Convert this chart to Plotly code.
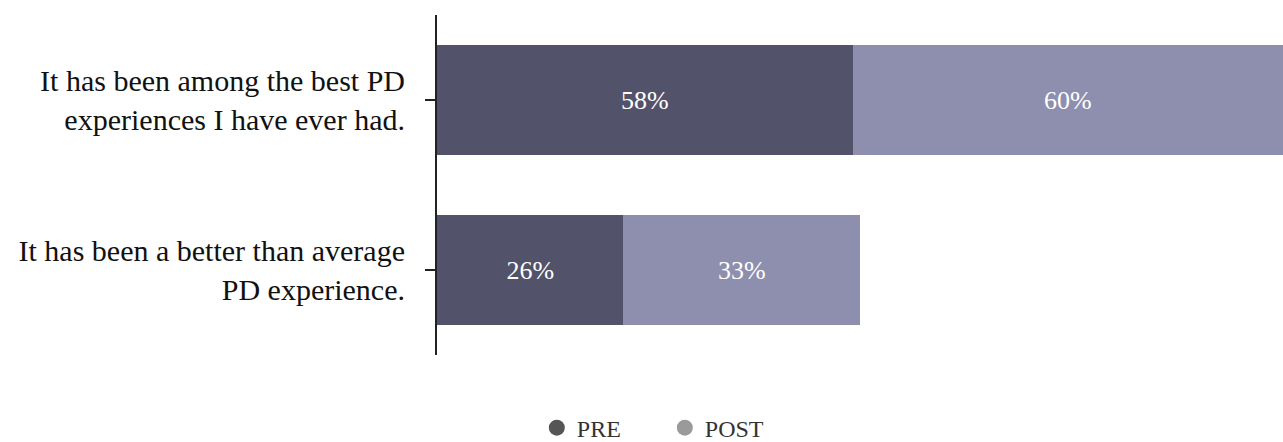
import plotly.graph_objects as go

categories = ["It has been among the best PD<br>experiences I have ever had.",
              "It has been a better than average<br>PD experience."]
pre = [58, 26]
post = [60, 33]
series_names = ["PRE", "POST"]

pre_color = "#52526a"
post_color = "#8e8eae"
legend_pre = "#555555"
legend_post = "#9a9a9a"
font_family = "Liberation Serif, Times New Roman, serif"

fig = go.Figure()
fig.add_trace(go.Bar(y=categories, x=pre, orientation="h", marker=dict(color=pre_color, line=dict(width=0)),
                     text=[f"{v}%" for v in pre], textposition="inside", insidetextanchor="middle",
                     textfont=dict(color="white", size=26, family=font_family), showlegend=False, name="PRE"))
fig.add_trace(go.Bar(y=categories, x=post, orientation="h", marker=dict(color=post_color, line=dict(width=0)),
                     text=[f"{v}%" for v in post], textposition="inside", insidetextanchor="middle",
                     textfont=dict(color="white", size=26, family=font_family), showlegend=False, name="POST"))
for name, col in zip(series_names, [legend_pre, legend_post]):
    fig.add_trace(go.Scatter(x=[None], y=[None], mode="markers", name=name,
                             marker=dict(symbol="circle", size=20, color=col)))

fig.update_layout(
    width=1283, height=442,
    barmode="stack", bargap=0.35,
    margin=dict(l=437, r=0, t=15, b=87, autoexpand=False),
    plot_bgcolor="white", paper_bgcolor="white",
    font=dict(family=font_family, size=30, color="#111111"),
    showlegend=True,
    legend=dict(orientation="h", traceorder="normal", x=0.118, xanchor="left", y=-0.215, yanchor="middle",
                font=dict(size=24, color="#333333"), itemsizing="trace", itemwidth=30,
                entrywidth=83, entrywidthmode="pixels"),
    xaxis=dict(range=[0, 118], visible=False, fixedrange=True),
    yaxis=dict(categoryorder="array", categoryarray=categories[::-1], showline=True, linecolor="#222222",
               linewidth=2, ticks="outside", ticklen=10, tickcolor="#222222", tickwidth=1.5,
               showgrid=False, ticklabelstandoff=14, tickfont=dict(size=30, color="#111111")),
)
fig.write_html("out.html")
